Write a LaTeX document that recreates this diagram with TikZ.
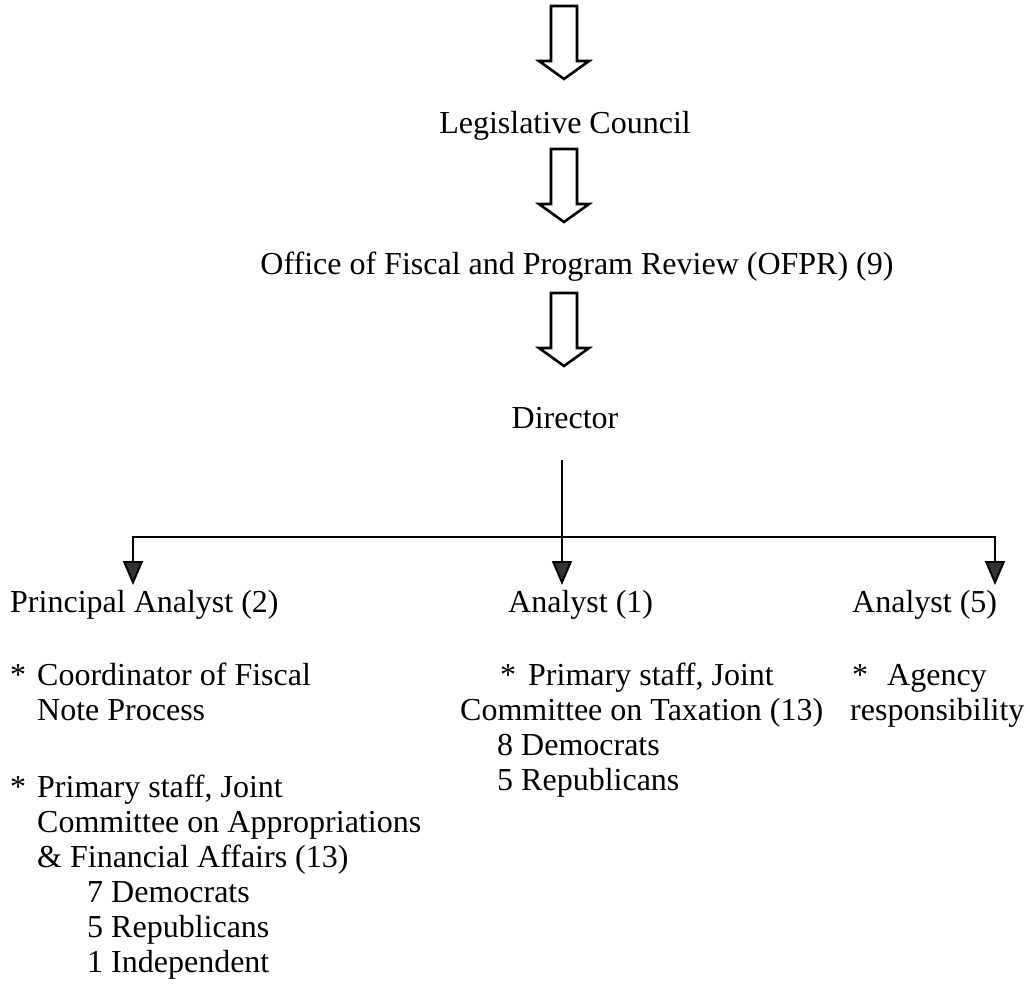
\documentclass[tikz,border=0pt]{standalone}
\usepackage{fontspec}
\setmainfont{Liberation Serif}
\usetikzlibrary{arrows.meta,positioning}

\begin{document}
\begin{tikzpicture}[
  x=1pt, y=-1pt,
  head/.style={inner sep=0pt, font=\fontsize{32}{35}\selectfont, anchor=base},
  txt/.style={inner sep=0pt, font=\fontsize{32}{35}\selectfont, align=left, anchor=base west},
  link/.style={line width=2pt},
  tip/.style={-{Triangle[width=20pt, length=24pt, fill=black!80]}},
  hollow/.pic={\draw[line width=2.6pt, line join=miter] (-13,0) -- (-13,55) -- (-25,55) -- (0,73) -- (25,55) -- (13,55) -- (13,0) -- cycle;}
]
\useasboundingbox (0,0) rectangle (1029,985);

% chain of offices
\pic (downA) at (564,6) {hollow};
\node[head] (legis) at (565,133) {Legislative Council};
\pic (downB) at (564,149) {hollow};
\node[head] (office) at (577,274) {Office of Fiscal and Program Review (OFPR) (9)};
\pic (downC) at (564,293) {hollow};
\node[head] (director) at (565,428) {Director};

% staff
\node[txt] (principal) at (10,612) {Principal Analyst (2)};
\node[txt] (analystone) at (508,612) {Analyst (1)};
\node[txt] (analystfive) at (852,612) {Analyst (5)};

% principal analyst duties (multi-line nodes sit on their last line)
\node[txt] (starA) at (10,685) {*};
\node[txt] (fiscalnote) at (37,720) {Coordinator of Fiscal\\Note Process};
\node[txt] (starB) at (10,797) {*};
\node[txt] (approp) at (37,867) {Primary staff, Joint\\Committee on Appropriations\\\& Financial Affairs (13)};
\node[txt] (appropseats) at (87,972) {7 Democrats\\5 Republicans\\1 Independent};

% analyst (1) duties
\node[txt] (starC) at (500,685) {*};
\node[txt] (taxstaff) at (528,685) {Primary staff, Joint};
\node[txt] (taxcomm) at (460,720) {Committee on Taxation (13)};
\node[txt] (taxseats) at (497,790) {8 Democrats\\5 Republicans};

% analyst (5) duties
\node[txt] (starD) at (852,685) {*};
\node[txt] (agency) at (887,685) {Agency};
\node[txt] (agencyresp) at (850,720) {responsibility};

% connectors
\coordinate (stem) at (562,460);
\coordinate (split) at (562,537);
\coordinate (tipL) at (133,585);
\coordinate (tipM) at (562,585);
\coordinate (tipR) at (995,585);
\draw[link, tip] (stem) -- (tipM);
\draw[link, tip] (split) -| (tipL);
\draw[link, tip] (split) -| (tipR);
\end{tikzpicture}
\end{document}
